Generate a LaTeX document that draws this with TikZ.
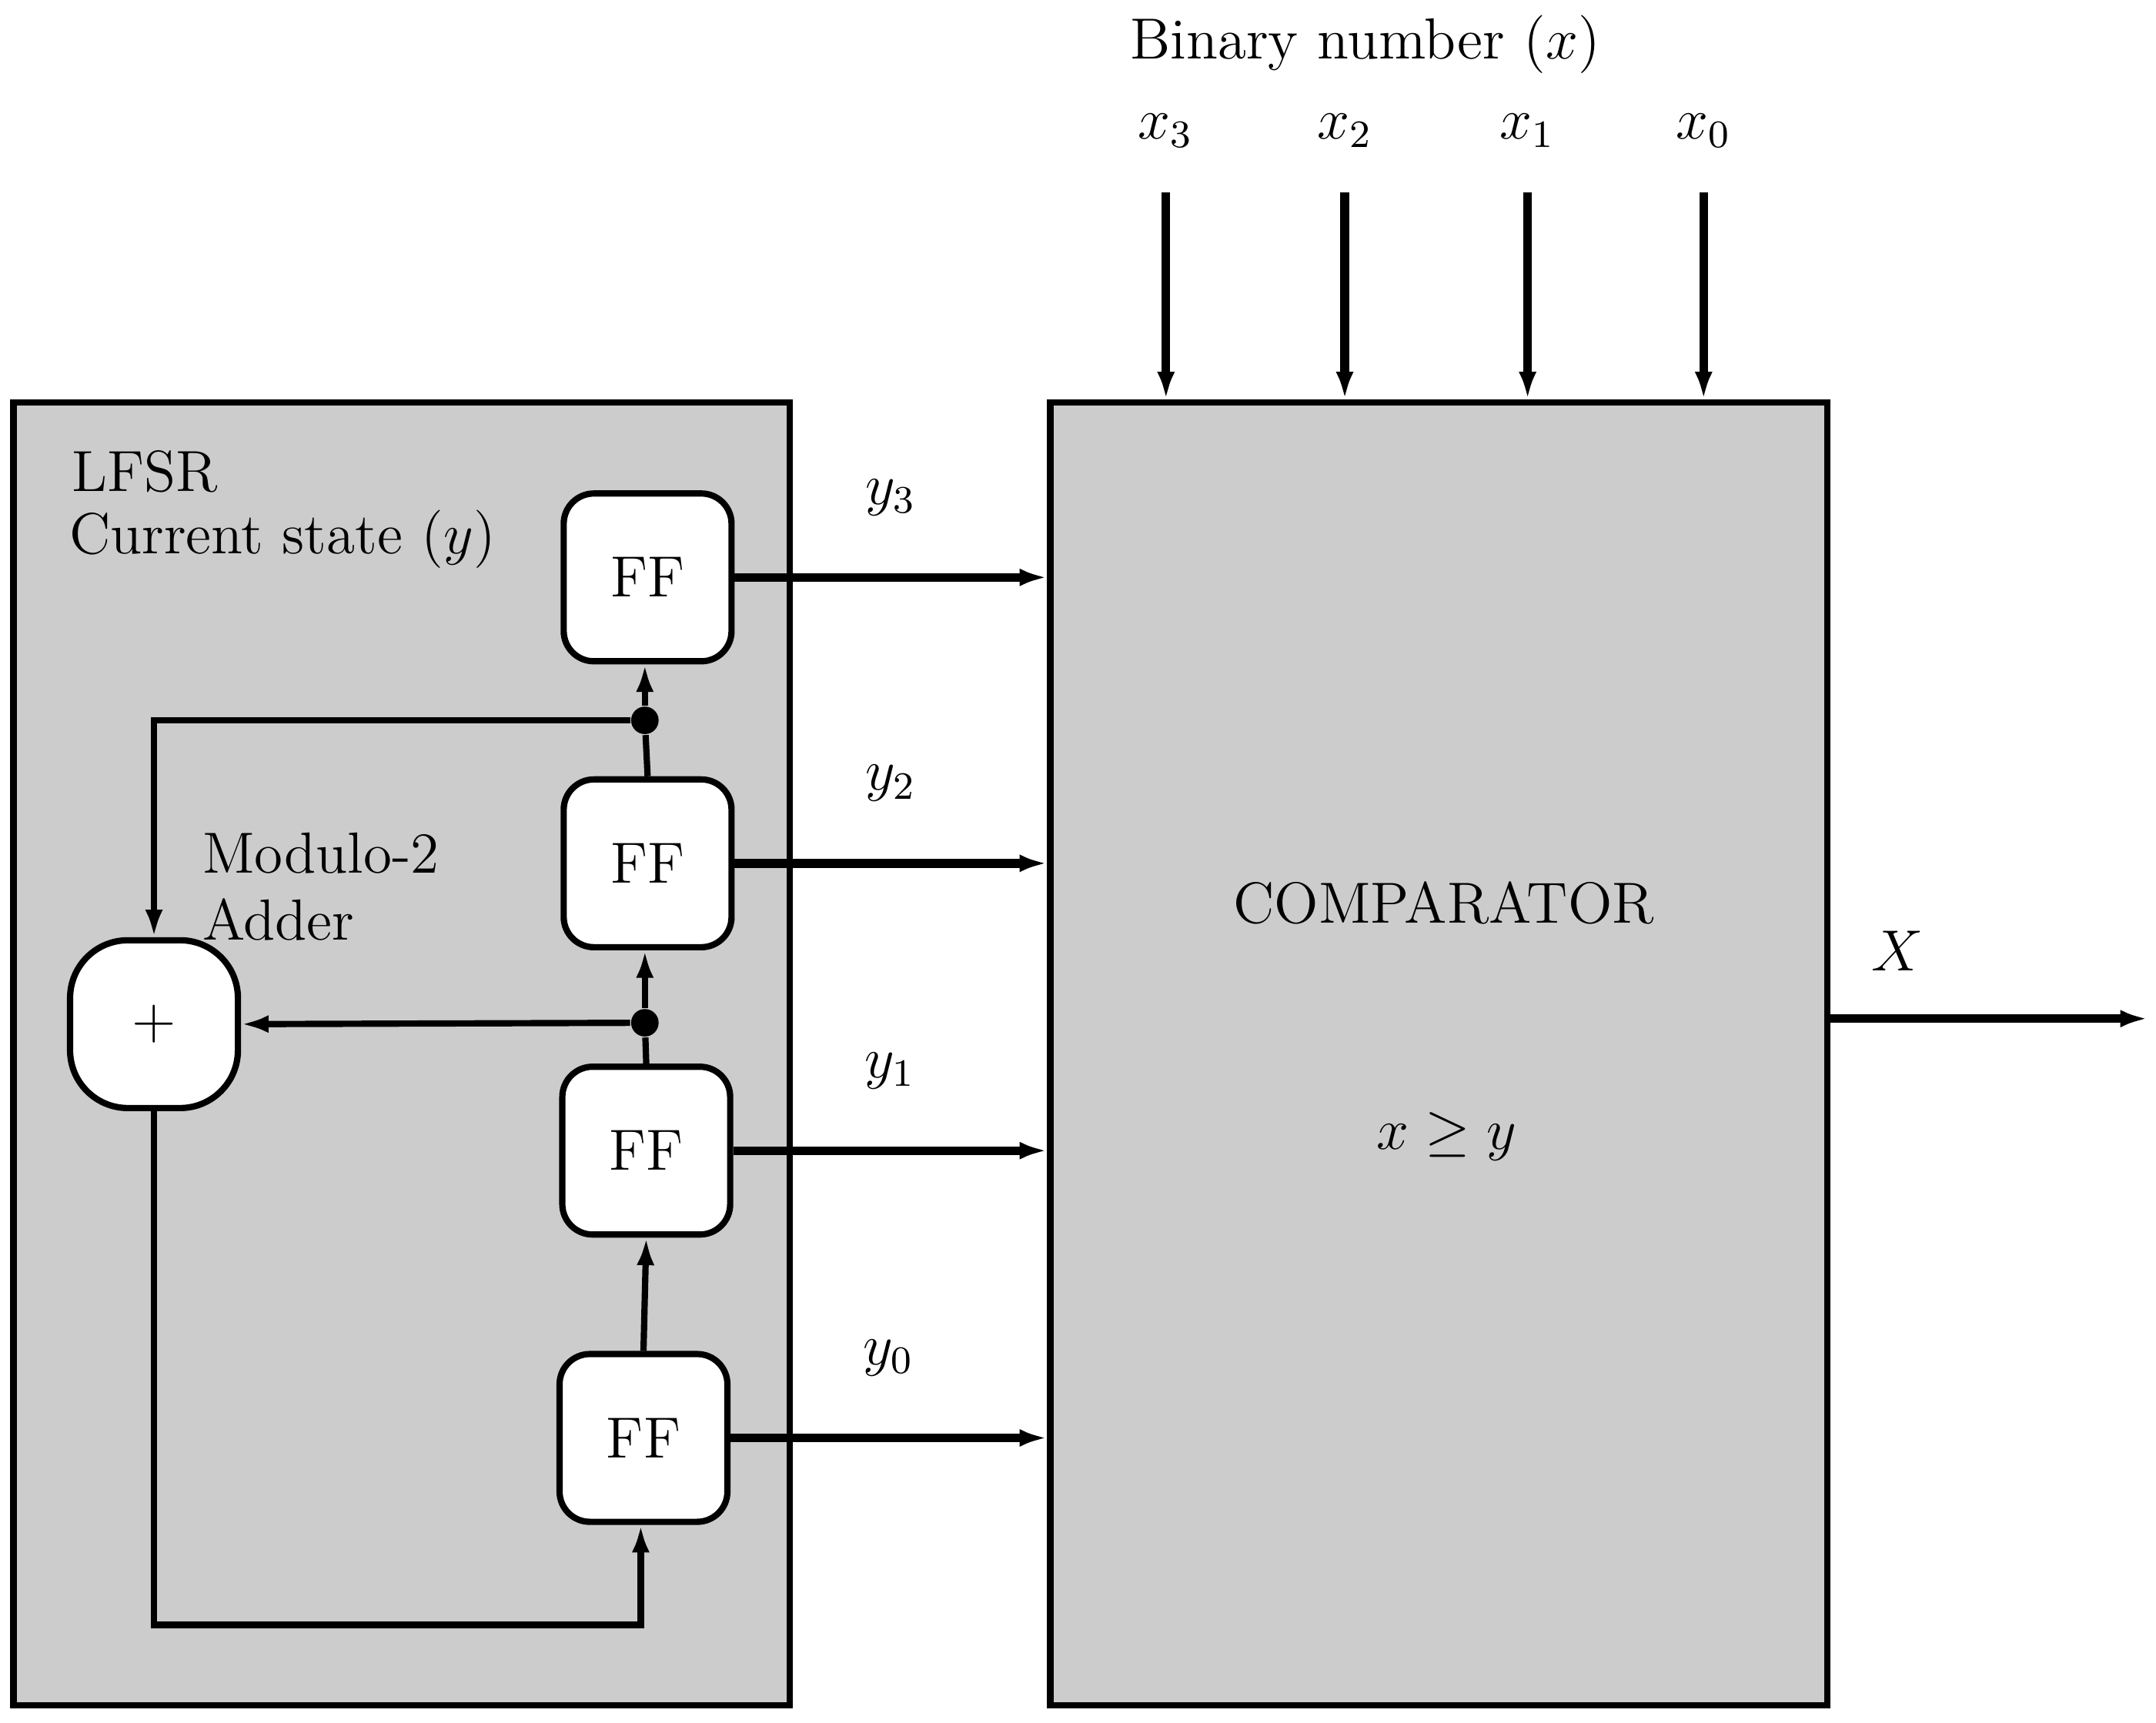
\documentclass[tikz,border=0pt]{standalone}
\usetikzlibrary{arrows.meta}
\definecolor{bg}{HTML}{CCCCCC}
\begin{document}
\begin{tikzpicture}[x=0.01cm,y=-0.01cm,font=\fontsize{12}{14}\selectfont,
  blk/.style={draw,line width=1.3pt,fill=bg},
  ff/.style={draw,line width=1.3pt,fill=white,rounded corners=0.22cm,minimum size=1.22cm,inner sep=0pt},
  ln/.style={line width=1.3pt},
  ar/.style={line width=1.3pt,-{Latex[length=0.2cm,width=0.13cm]}},
  big/.style={line width=1.8pt,-{Latex[length=0.2cm,width=0.13cm]}},
  dot/.style={circle,fill=black,inner sep=0pt,minimum size=0.2cm}]
\useasboundingbox (0,0) rectangle (1568,1253);
\node[blk,minimum width=5.64cm,minimum height=9.47cm,inner sep=0pt] (L) at (292,766.5) {};
\node[blk,minimum width=5.65cm,minimum height=9.47cm,inner sep=0pt] (C) at (1046.5,766.5) {};
\node[ff] (f3) at (471,420) {FF};
\node[ff] (f2) at (471,628) {FF};
\node[ff] (f1) at (470,837) {FF};
\node[ff] (f0) at (468,1046) {FF};
\node[ff,rounded corners=0.42cm] (ad) at (112,745) {$+$};
\node[dot] (d2) at (469,524) {};
\node[dot] (d1) at (469,744) {};
\node[anchor=west] (t1) at (40,343) {LFSR};
\node[anchor=west] (t2) at (38,392) {Current state $(y)$};
\node[anchor=west,align=left] (t3) at (135,645) {Modulo-2\\Adder};
\draw[ar] (f0.north) -- (f1.south);
\draw[ln] (f1.north) -- (d1);
\draw[ar] (d1) -- (d1|-f2.south);
\draw[ln] (f2.north) -- (d2);
\draw[ar] (d2) -- (d2|-f3.south);
\draw[ar] (d2) -| (ad.north);
\draw[ar] (d1) -- (ad.east);
\coordinate (b) at (466,1182);
\draw[ar] (ad.south) |- (b) -- (f0.south-|b);
\draw[big] (f3.east) -- (f3.east-|C.west) node[pos=0.5,above=0.3cm] {$y_3$};
\draw[big] (f2.east) -- (f2.east-|C.west) node[pos=0.5,above=0.3cm] {$y_2$};
\draw[big] (f1.east) -- (f1.east-|C.west) node[pos=0.5,above=0.3cm] {$y_1$};
\draw[big] (f0.east) -- (f0.east-|C.west) node[pos=0.5,above=0.3cm] {$y_0$};
\node (bn) at (993,32) {Binary number $(x)$};
\foreach \i/\x in {3/848,2/978,1/1111,0/1239}{
  \node (x\i) at (\x,95) {$x_{\i}$};
  \coordinate (s\i) at (\x,140);
  \draw[big] (s\i) -- (s\i|-C.north);
}
\node (cm) at (1050,657) {COMPARATOR};
\node (ge) at (1052,827) {$x\geq y$};
\coordinate (o) at (1562,741);
\draw[big] (o-|C.east) -- (o) node[pos=0.21,above=0.2cm] {$X$};
\end{tikzpicture}
\end{document}
